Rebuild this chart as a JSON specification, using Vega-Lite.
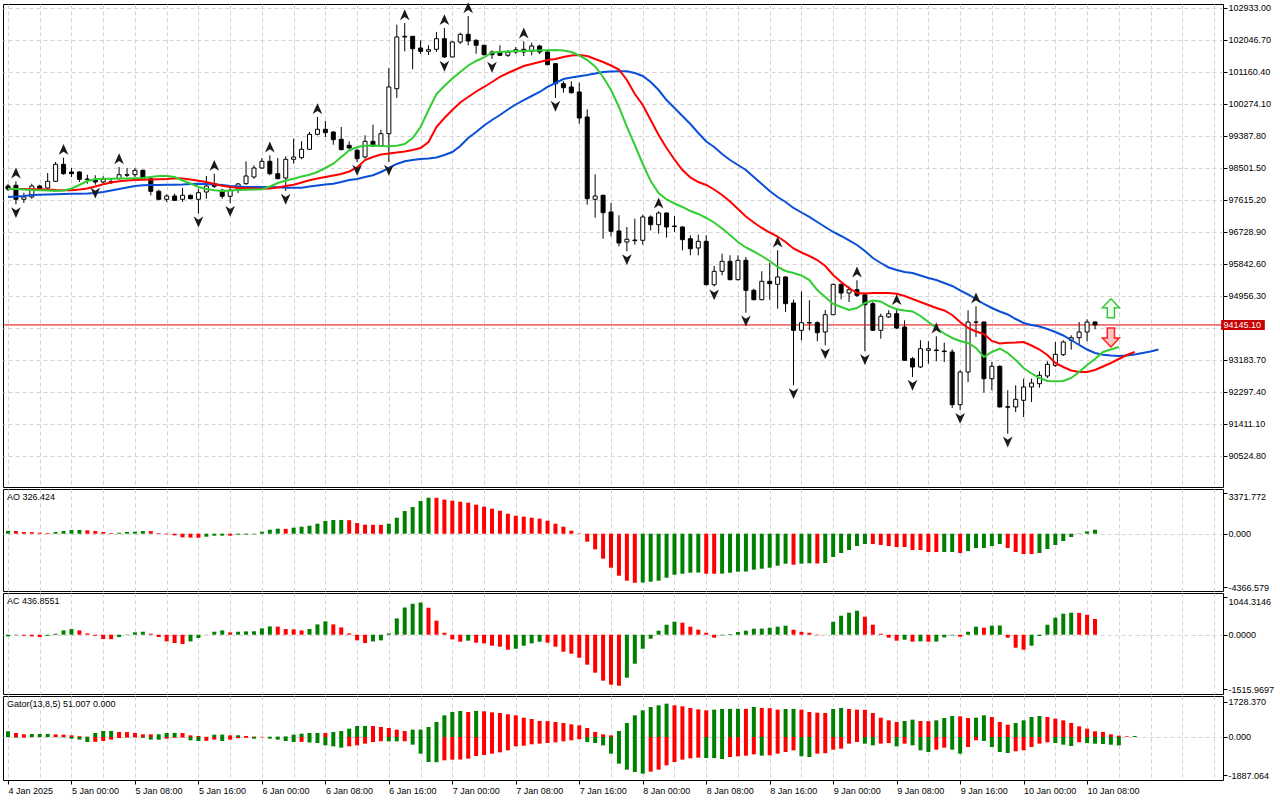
{
"$schema": "https://vega.github.io/schema/vega-lite/v6.json",
"background": "#ffffff",
"padding": {"left": 2, "top": 1, "right": 0, "bottom": 0},
"bounds": "flush",
"spacing": 2,
"config": {
"view": {"stroke": "#000000", "strokeWidth": 1},
"axis": {"labelFont": "Liberation Sans", "labelFontSize": 9, "labelColor": "#000000", "tickColor": "#000000", "tickSize": 4, "domain": false, "gridColor": "#d4d4d4", "gridDash": [4, 3], "gridWidth": 1, "labelFlush": false, "labelOverlap": false},
"title": {"font": "Liberation Sans", "fontSize": 9, "fontWeight": "normal", "color": "#000000", "anchor": "start", "frame": "group", "baseline": "alphabetic", "offset": -13, "dx": 4}
},
"datasets": {
"p": [{"p": 94145.1}],
"s": [{"i": 138, "p": 94606, "k": "up"}, {"i": 138, "p": 93798, "k": "dn"}],
"d": [
{"i":-1,"o":97994,"h":98050,"l":97856,"c":97911,"j":97690,"t":97919,"g":97919,"ao":235,"ac":-46,"gu":279,"gd":-10},
{"i":0,"o":98014,"h":98124,"l":97487,"c":97626,"j":97703,"t":97911,"g":97911,"ao":218,"ac":-15,"gu":197,"gd":-33,"fu":1,"fd":1},
{"i":1,"o":97626,"h":97809,"l":97523,"c":97690,"j":97717,"t":97911,"g":97897,"ao":137,"ac":-28,"gu":131,"gd":-33},
{"i":2,"o":97690,"h":98058,"l":97642,"c":97994,"j":97745,"t":97906,"g":97883,"ao":130,"ac":-46,"gu":148,"gd":-10},
{"i":3,"o":97994,"h":98030,"l":97911,"c":97919,"j":97753,"t":97903,"g":97875,"ao":82,"ac":-65,"gu":150,"gd":-5},
{"i":4,"o":97939,"h":98354,"l":97919,"c":98124,"j":97759,"t":97897,"g":97867,"ao":55,"ac":-28,"gu":152,"gd":-5},
{"i":5,"o":98124,"h":98659,"l":98105,"c":98595,"j":97764,"t":97883,"g":97856,"ao":137,"ac":28,"gu":131,"gd":-10},
{"i":6,"o":98595,"h":98778,"l":98307,"c":98335,"j":97773,"t":97875,"g":97870,"ao":218,"ac":120,"gu":115,"gd":-20,"fu":1},
{"i":7,"o":98382,"h":98493,"l":98244,"c":98335,"j":97781,"t":97875,"g":97925,"ao":300,"ac":157,"gu":82,"gd":-82},
{"i":8,"o":98382,"h":98401,"l":98105,"c":98180,"j":97781,"t":97897,"g":98022,"ao":305,"ac":120,"gu":40,"gd":-131},
{"i":9,"o":98188,"h":98307,"l":98058,"c":98171,"j":97786,"t":97925,"g":98133,"ao":273,"ac":37,"gu":20,"gd":-246},
{"i":10,"o":98180,"h":98291,"l":98030,"c":98105,"j":97800,"t":97980,"g":98183,"ao":218,"ac":-28,"gu":197,"gd":-240,"fd":1},
{"i":11,"o":98105,"h":98263,"l":98058,"c":98180,"j":97828,"t":98041,"g":98194,"ao":137,"ac":-120,"gu":296,"gd":-197},
{"i":12,"o":98119,"h":98216,"l":98050,"c":98099,"j":97870,"t":98091,"g":98196,"ao":55,"ac":-125,"gu":300,"gd":-131},
{"i":13,"o":98196,"h":98520,"l":98180,"c":98307,"j":97911,"t":98124,"g":98202,"ao":82,"ac":-65,"gu":246,"gd":-50,"fu":1},
{"i":14,"o":98291,"h":98493,"l":98244,"c":98307,"j":97953,"t":98147,"g":98202,"ao":137,"ac":-10,"gu":240,"gd":-30},
{"i":15,"o":98307,"h":98493,"l":98244,"c":98429,"j":97994,"t":98160,"g":98208,"ao":164,"ac":65,"gu":197,"gd":-20},
{"i":16,"o":98429,"h":98446,"l":98160,"c":98196,"j":98014,"t":98166,"g":98216,"ao":218,"ac":83,"gu":131,"gd":-40},
{"i":17,"o":98196,"h":98244,"l":97737,"c":97847,"j":98022,"t":98174,"g":98244,"ao":210,"ac":28,"gu":130,"gd":-131},
{"i":18,"o":97847,"h":97892,"l":97598,"c":97626,"j":98022,"t":98180,"g":98271,"ao":55,"ac":-65,"gu":135,"gd":-135},
{"i":19,"o":97626,"h":97764,"l":97551,"c":97717,"j":98030,"t":98188,"g":98271,"ao":-55,"ac":-185,"gu":197,"gd":-82},
{"i":20,"o":97717,"h":97781,"l":97579,"c":97598,"j":98030,"t":98208,"g":98244,"ao":-137,"ac":-231,"gu":200,"gd":-40},
{"i":21,"o":97626,"h":97939,"l":97551,"c":97737,"j":98036,"t":98202,"g":98147,"ao":-300,"ac":-259,"gu":195,"gd":-30},
{"i":22,"o":97737,"h":97753,"l":97626,"c":97642,"j":98050,"t":98174,"g":98063,"ao":-320,"ac":-185,"gu":82,"gd":-164},
{"i":23,"o":97626,"h":97919,"l":97227,"c":97809,"j":98058,"t":98141,"g":97967,"ao":-330,"ac":-92,"gu":49,"gd":-197,"fd":1},
{"i":24,"o":97828,"h":98271,"l":97642,"c":97994,"j":98050,"t":98105,"g":97911,"ao":-246,"ac":5,"gu":10,"gd":-190},
{"i":25,"o":98058,"h":98335,"l":97939,"c":97986,"j":98036,"t":98050,"g":97875,"ao":-164,"ac":83,"gu":115,"gd":-131,"fu":1},
{"i":26,"o":97875,"h":97919,"l":97642,"c":97709,"j":98022,"t":98000,"g":97856,"ao":-160,"ac":120,"gu":118,"gd":-197},
{"i":27,"o":97709,"h":97967,"l":97523,"c":97875,"j":97994,"t":97967,"g":97870,"ao":-164,"ac":65,"gu":82,"gd":-131,"fd":1},
{"i":28,"o":97919,"h":98077,"l":97800,"c":98050,"j":97980,"t":97944,"g":97883,"ao":-82,"ac":83,"gu":85,"gd":-60},
{"i":29,"o":98058,"h":98678,"l":98030,"c":98271,"j":97967,"t":97933,"g":97892,"ao":-80,"ac":92,"gu":49,"gd":-40},
{"i":30,"o":98244,"h":98568,"l":98196,"c":98493,"j":97967,"t":97925,"g":97897,"ao":-55,"ac":95,"gu":20,"gd":-82},
{"i":31,"o":98493,"h":98770,"l":98473,"c":98678,"j":97967,"t":97919,"g":97903,"ao":164,"ac":176,"gu":10,"gd":-16},
{"i":32,"o":98678,"h":98845,"l":98291,"c":98335,"j":97967,"t":97925,"g":97980,"ao":328,"ac":231,"gu":15,"gd":-82,"fu":1},
{"i":33,"o":98335,"h":98770,"l":98180,"c":98196,"j":97958,"t":97953,"g":98077,"ao":410,"ac":225,"gu":20,"gd":-131},
{"i":34,"o":98216,"h":98817,"l":97856,"c":98734,"j":97947,"t":97994,"g":98147,"ao":400,"ac":157,"gu":30,"gd":-197,"fd":1},
{"i":35,"o":98734,"h":99304,"l":98612,"c":98798,"j":97947,"t":98030,"g":98196,"ao":491,"ac":150,"gu":115,"gd":-246},
{"i":36,"o":98778,"h":99232,"l":98734,"c":99011,"j":97947,"t":98091,"g":98257,"ao":573,"ac":120,"gu":164,"gd":-240},
{"i":37,"o":99011,"h":99490,"l":99000,"c":99426,"j":97980,"t":98152,"g":98307,"ao":655,"ac":157,"gu":197,"gd":-270},
{"i":38,"o":99426,"h":99906,"l":99399,"c":99565,"j":98008,"t":98202,"g":98382,"ao":819,"ac":287,"gu":200,"gd":-296,"fu":1},
{"i":39,"o":99565,"h":99795,"l":99352,"c":99471,"j":98036,"t":98244,"g":98493,"ao":1037,"ac":370,"gu":195,"gd":-410},
{"i":40,"o":99490,"h":99509,"l":99138,"c":99277,"j":98058,"t":98285,"g":98612,"ao":1119,"ac":287,"gu":246,"gd":-460},
{"i":41,"o":99288,"h":99629,"l":98983,"c":99000,"j":98105,"t":98327,"g":98798,"ao":1125,"ac":203,"gu":296,"gd":-525},
{"i":42,"o":99122,"h":99232,"l":99019,"c":99047,"j":98160,"t":98396,"g":98978,"ao":1110,"ac":37,"gu":410,"gd":-460},
{"i":43,"o":98983,"h":99027,"l":98659,"c":98750,"j":98188,"t":98507,"g":99075,"ao":874,"ac":-157,"gu":542,"gd":-410,"fd":1},
{"i":44,"o":98798,"h":99399,"l":98750,"c":99232,"j":98244,"t":98714,"g":99111,"ao":737,"ac":-231,"gu":545,"gd":-328},
{"i":45,"o":99232,"h":99692,"l":99075,"c":99102,"j":98291,"t":98798,"g":99116,"ao":730,"ac":-185,"gu":540,"gd":-250},
{"i":46,"o":99102,"h":99554,"l":99075,"c":99443,"j":98382,"t":98867,"g":99102,"ao":725,"ac":-157,"gu":493,"gd":-210},
{"i":47,"o":99443,"h":101263,"l":98659,"c":100737,"j":98493,"t":98894,"g":99094,"ao":819,"ac":37,"gu":443,"gd":-213,"fd":1},
{"i":48,"o":100689,"h":102462,"l":100432,"c":102122,"j":98604,"t":98922,"g":99111,"ao":1310,"ac":453,"gu":361,"gd":-215},
{"i":49,"o":102141,"h":102509,"l":101725,"c":102122,"j":98678,"t":98950,"g":99158,"ao":1856,"ac":755,"gu":296,"gd":-210,"fu":1},
{"i":50,"o":102141,"h":102149,"l":101227,"c":101797,"j":98714,"t":98991,"g":99324,"ao":2184,"ac":860,"gu":361,"gd":-378},
{"i":51,"o":101817,"h":102030,"l":101651,"c":101725,"j":98742,"t":99047,"g":99629,"ao":2675,"ac":893,"gu":365,"gd":-821},
{"i":52,"o":101725,"h":101892,"l":101623,"c":101770,"j":98756,"t":99213,"g":100099,"ao":2948,"ac":749,"gu":493,"gd":-1232},
{"i":53,"o":101781,"h":102260,"l":101706,"c":102074,"j":98784,"t":99629,"g":100543,"ao":2940,"ac":389,"gu":739,"gd":-1240},
{"i":54,"o":102074,"h":102371,"l":101540,"c":101568,"j":98853,"t":99878,"g":100764,"ao":2785,"ac":55,"gu":1067,"gd":-1150,"fu":1,"fd":1},
{"i":55,"o":101568,"h":102011,"l":101554,"c":101983,"j":98936,"t":100099,"g":100972,"ao":2703,"ac":-130,"gu":1232,"gd":-1117},
{"i":56,"o":101983,"h":102241,"l":101928,"c":102196,"j":99102,"t":100307,"g":101152,"ao":2621,"ac":-194,"gu":1281,"gd":-1110},
{"i":57,"o":102196,"h":102703,"l":101892,"c":102011,"j":99324,"t":100460,"g":101332,"ao":2539,"ac":-166,"gu":1232,"gd":-1067,"fu":1},
{"i":58,"o":102030,"h":102058,"l":101659,"c":101892,"j":99490,"t":100612,"g":101457,"ao":2375,"ac":-222,"gu":1285,"gd":-936},
{"i":59,"o":101892,"h":101908,"l":101615,"c":101631,"j":99670,"t":100737,"g":101554,"ao":2211,"ac":-240,"gu":1265,"gd":-887},
{"i":60,"o":101706,"h":101753,"l":101512,"c":101631,"j":99822,"t":100875,"g":101692,"ao":2048,"ac":-305,"gu":1215,"gd":-821,"fd":1},
{"i":61,"o":101706,"h":101892,"l":101595,"c":101615,"j":99961,"t":101014,"g":101706,"ao":1884,"ac":-333,"gu":1182,"gd":-755},
{"i":62,"o":101615,"h":101761,"l":101568,"c":101706,"j":100113,"t":101124,"g":101720,"ao":1638,"ac":-416,"gu":1117,"gd":-657},
{"i":63,"o":101706,"h":101845,"l":101651,"c":101770,"j":100252,"t":101221,"g":101725,"ao":1474,"ac":-389,"gu":1067,"gd":-460},
{"i":64,"o":101781,"h":102002,"l":101595,"c":101706,"j":100376,"t":101318,"g":101734,"ao":1392,"ac":-305,"gu":952,"gd":-428,"fu":1},
{"i":65,"o":101725,"h":101964,"l":101615,"c":101872,"j":100487,"t":101374,"g":101742,"ao":1310,"ac":-240,"gu":887,"gd":-361},
{"i":66,"o":101872,"h":101908,"l":101651,"c":101706,"j":100598,"t":101429,"g":101748,"ao":1229,"ac":-194,"gu":788,"gd":-328},
{"i":67,"o":101706,"h":101725,"l":101338,"c":101354,"j":100737,"t":101484,"g":101753,"ao":1065,"ac":-222,"gu":780,"gd":-296},
{"i":68,"o":101382,"h":101401,"l":100432,"c":100828,"j":100847,"t":101512,"g":101761,"ao":819,"ac":-333,"gu":739,"gd":-263,"fd":1},
{"i":69,"o":100828,"h":100894,"l":100579,"c":100717,"j":100958,"t":101568,"g":101748,"ao":573,"ac":-472,"gu":690,"gd":-213},
{"i":70,"o":100737,"h":100894,"l":100551,"c":100579,"j":101000,"t":101609,"g":101706,"ao":246,"ac":-527,"gu":624,"gd":-164},
{"i":71,"o":100598,"h":100856,"l":99720,"c":99878,"j":101033,"t":101623,"g":101609,"ao":27,"ac":-638,"gu":575,"gd":-115},
{"i":72,"o":99906,"h":100119,"l":97476,"c":97642,"j":101069,"t":101595,"g":101484,"ao":-655,"ac":-832,"gu":443,"gd":-246},
{"i":73,"o":97626,"h":98318,"l":97116,"c":97717,"j":101110,"t":101512,"g":101304,"ao":-1283,"ac":-1054,"gu":246,"gd":-296},
{"i":74,"o":97737,"h":97753,"l":96534,"c":97255,"j":101152,"t":101429,"g":101014,"ao":-2048,"ac":-1276,"gu":131,"gd":-410},
{"i":75,"o":97274,"h":97523,"l":96601,"c":96739,"j":101166,"t":101332,"g":100653,"ao":-2785,"ac":-1387,"gu":80,"gd":-821},
{"i":76,"o":96748,"h":97183,"l":96324,"c":96415,"j":101171,"t":101221,"g":100183,"ao":-3440,"ac":-1415,"gu":296,"gd":-1314},
{"i":77,"o":96443,"h":96859,"l":96185,"c":96518,"j":101171,"t":100930,"g":99629,"ao":-3849,"ac":-1193,"gu":690,"gd":-1609,"fd":1},
{"i":78,"o":96498,"h":97088,"l":96368,"c":96482,"j":101124,"t":100543,"g":99130,"ao":-4020,"ac":-805,"gu":1067,"gd":-1724},
{"i":79,"o":96490,"h":97199,"l":96368,"c":97136,"j":101041,"t":100238,"g":98604,"ao":-4000,"ac":-389,"gu":1314,"gd":-1806},
{"i":80,"o":97136,"h":97183,"l":96767,"c":96922,"j":100875,"t":99822,"g":98133,"ao":-3931,"ac":-111,"gu":1478,"gd":-1708},
{"i":81,"o":96922,"h":97293,"l":96673,"c":97246,"j":100653,"t":99407,"g":97800,"ao":-3849,"ac":111,"gu":1560,"gd":-1609,"fu":1},
{"i":82,"o":97246,"h":97260,"l":96562,"c":96859,"j":100376,"t":99047,"g":97620,"ao":-3604,"ac":277,"gu":1642,"gd":-1396},
{"i":83,"o":96886,"h":97163,"l":96720,"c":96870,"j":100155,"t":98728,"g":97509,"ao":-3358,"ac":361,"gu":1560,"gd":-1232},
{"i":84,"o":96859,"h":96878,"l":96213,"c":96507,"j":99933,"t":98437,"g":97413,"ao":-3276,"ac":333,"gu":1511,"gd":-1117},
{"i":85,"o":96534,"h":96629,"l":96075,"c":96257,"j":99712,"t":98230,"g":97302,"ao":-3194,"ac":222,"gu":1429,"gd":-1050},
{"i":86,"o":96277,"h":96645,"l":96075,"c":96462,"j":99462,"t":98105,"g":97219,"ao":-3180,"ac":139,"gu":1363,"gd":-1018},
{"i":87,"o":96462,"h":96629,"l":95244,"c":95260,"j":99227,"t":98022,"g":97108,"ao":-3276,"ac":55,"gu":1314,"gd":-1034},
{"i":88,"o":95260,"h":95778,"l":95210,"c":95631,"j":99075,"t":97897,"g":96983,"ao":-3280,"ac":-83,"gu":1347,"gd":-1040,"fd":1},
{"i":89,"o":95631,"h":96119,"l":95521,"c":95908,"j":98881,"t":97745,"g":96817,"ao":-3270,"ac":-18,"gu":1380,"gd":-1084},
{"i":90,"o":95908,"h":96075,"l":95382,"c":95399,"j":98714,"t":97565,"g":96637,"ao":-3194,"ac":18,"gu":1385,"gd":-985},
{"i":91,"o":95399,"h":96075,"l":95377,"c":95936,"j":98576,"t":97357,"g":96443,"ao":-3112,"ac":74,"gu":1390,"gd":-952},
{"i":92,"o":95936,"h":96028,"l":94485,"c":95105,"j":98437,"t":97149,"g":96291,"ao":-3100,"ac":111,"gu":1385,"gd":-920,"fd":1},
{"i":93,"o":95105,"h":95149,"l":94828,"c":94845,"j":98244,"t":96983,"g":96180,"ao":-2948,"ac":166,"gu":1478,"gd":-854},
{"i":94,"o":94845,"h":95631,"l":94823,"c":95354,"j":98050,"t":96831,"g":96055,"ao":-2867,"ac":170,"gu":1429,"gd":-920},
{"i":95,"o":95354,"h":95861,"l":94845,"c":95288,"j":97856,"t":96706,"g":95917,"ao":-2785,"ac":194,"gu":1420,"gd":-903},
{"i":96,"o":95271,"h":96213,"l":94595,"c":95474,"j":97690,"t":96595,"g":95751,"ao":-2621,"ac":222,"gu":1347,"gd":-821,"fu":1},
{"i":97,"o":95474,"h":95493,"l":94504,"c":94734,"j":97551,"t":96443,"g":95640,"ao":-2457,"ac":250,"gu":1380,"gd":-739},
{"i":98,"o":94753,"h":94845,"l":92474,"c":93997,"j":97385,"t":96263,"g":95584,"ao":-2539,"ac":139,"gu":1385,"gd":-657,"fd":1},
{"i":99,"o":93997,"h":95077,"l":93720,"c":94208,"j":97260,"t":96152,"g":95515,"ao":-2457,"ac":80,"gu":1347,"gd":-952},
{"i":100,"o":94213,"h":94828,"l":93997,"c":94199,"j":97136,"t":96055,"g":95390,"ao":-2420,"ac":55,"gu":1232,"gd":-985},
{"i":101,"o":94208,"h":94246,"l":93692,"c":93931,"j":96997,"t":95944,"g":95113,"ao":-2440,"ac":-14,"gu":1199,"gd":-821},
{"i":102,"o":93950,"h":94559,"l":93582,"c":94429,"j":96859,"t":95778,"g":94920,"ao":-2400,"ac":5,"gu":1182,"gd":-800,"fd":1},
{"i":103,"o":94429,"h":95288,"l":94421,"c":95271,"j":96720,"t":95529,"g":94726,"ao":-1911,"ac":361,"gu":1380,"gd":-624},
{"i":104,"o":95271,"h":95288,"l":94856,"c":95030,"j":96609,"t":95335,"g":94643,"ao":-1583,"ac":527,"gu":1429,"gd":-575},
{"i":105,"o":95030,"h":95216,"l":94781,"c":95122,"j":96485,"t":95169,"g":94559,"ao":-1338,"ac":610,"gu":1380,"gd":-328},
{"i":106,"o":95122,"h":95382,"l":94920,"c":94967,"j":96360,"t":95030,"g":94615,"ao":-1010,"ac":666,"gu":1347,"gd":-246,"fu":1},
{"i":107,"o":94983,"h":94994,"l":93415,"c":94706,"j":96194,"t":95016,"g":94753,"ao":-846,"ac":499,"gu":1340,"gd":-328,"fd":1},
{"i":108,"o":94734,"h":94781,"l":93978,"c":93997,"j":96000,"t":95030,"g":94823,"ao":-850,"ac":277,"gu":1182,"gd":-410},
{"i":109,"o":93997,"h":94457,"l":93764,"c":94385,"j":95861,"t":95030,"g":94795,"ao":-928,"ac":28,"gu":952,"gd":-328},
{"i":110,"o":94366,"h":94551,"l":94338,"c":94457,"j":95737,"t":95030,"g":94670,"ao":-1010,"ac":-83,"gu":821,"gd":-300},
{"i":111,"o":94457,"h":94615,"l":94033,"c":94061,"j":95667,"t":95011,"g":94579,"ao":-1092,"ac":-166,"gu":739,"gd":-460,"fu":1},
{"i":112,"o":94089,"h":94274,"l":93161,"c":93166,"j":95612,"t":94947,"g":94546,"ao":-1095,"ac":-139,"gu":788,"gd":-328},
{"i":113,"o":93210,"h":93258,"l":92704,"c":92981,"j":95584,"t":94864,"g":94518,"ao":-1338,"ac":-194,"gu":854,"gd":-410,"fd":1},
{"i":114,"o":92981,"h":93720,"l":92953,"c":93487,"j":95515,"t":94781,"g":94393,"ao":-1340,"ac":-185,"gu":788,"gd":-657},
{"i":115,"o":93443,"h":93692,"l":93072,"c":93487,"j":95446,"t":94698,"g":94227,"ao":-1502,"ac":-194,"gu":780,"gd":-739},
{"i":116,"o":93451,"h":93831,"l":93138,"c":93435,"j":95390,"t":94615,"g":94061,"ao":-1505,"ac":-190,"gu":821,"gd":-624,"fu":1},
{"i":117,"o":93424,"h":93654,"l":93119,"c":93407,"j":95307,"t":94546,"g":93908,"ao":-1500,"ac":-74,"gu":936,"gd":-525},
{"i":118,"o":93396,"h":93471,"l":91845,"c":91936,"j":95224,"t":94421,"g":93784,"ao":-1495,"ac":-18,"gu":1034,"gd":-624},
{"i":119,"o":91936,"h":92889,"l":91789,"c":92842,"j":95100,"t":94227,"g":93701,"ao":-1583,"ac":-55,"gu":1018,"gd":-821,"fd":1},
{"i":120,"o":92842,"h":94551,"l":92565,"c":94227,"j":94989,"t":94061,"g":93645,"ao":-1420,"ac":83,"gu":936,"gd":-493},
{"i":121,"o":94219,"h":94662,"l":93812,"c":94227,"j":94864,"t":93964,"g":93507,"ao":-1174,"ac":222,"gu":952,"gd":-164,"fu":1},
{"i":122,"o":94227,"h":94246,"l":92269,"c":92656,"j":94726,"t":93895,"g":93258,"ao":-1170,"ac":194,"gu":1067,"gd":-197},
{"i":123,"o":92656,"h":93119,"l":92335,"c":93000,"j":94615,"t":93701,"g":93396,"ao":-1010,"ac":250,"gu":985,"gd":-493},
{"i":124,"o":93000,"h":93028,"l":91859,"c":91873,"j":94518,"t":93631,"g":93493,"ao":-846,"ac":255,"gu":739,"gd":-739},
{"i":125,"o":91881,"h":92335,"l":91133,"c":91867,"j":94435,"t":93651,"g":93368,"ao":-1174,"ac":-83,"gu":608,"gd":-788,"fd":1},
{"i":126,"o":91873,"h":92474,"l":91734,"c":92086,"j":94310,"t":93659,"g":93174,"ao":-1502,"ac":-361,"gu":690,"gd":-706},
{"i":127,"o":92058,"h":92656,"l":91596,"c":92427,"j":94199,"t":93673,"g":92953,"ao":-1665,"ac":-416,"gu":821,"gd":-657},
{"i":128,"o":92427,"h":92656,"l":92011,"c":92537,"j":94144,"t":93576,"g":92800,"ao":-1670,"ac":-305,"gu":985,"gd":-493},
{"i":129,"o":92518,"h":92861,"l":92407,"c":92751,"j":94102,"t":93465,"g":92676,"ao":-1583,"ac":-37,"gu":1034,"gd":-328},
{"i":130,"o":92731,"h":93138,"l":92676,"c":93055,"j":94033,"t":93313,"g":92593,"ao":-1256,"ac":277,"gu":985,"gd":-263},
{"i":131,"o":93028,"h":93673,"l":92981,"c":93332,"j":93950,"t":93091,"g":92584,"ao":-928,"ac":472,"gu":903,"gd":-296},
{"i":132,"o":93321,"h":93720,"l":93285,"c":93673,"j":93853,"t":92981,"g":92593,"ao":-601,"ac":583,"gu":821,"gd":-378},
{"i":133,"o":93720,"h":93859,"l":93460,"c":93792,"j":93728,"t":92884,"g":92676,"ao":-273,"ac":610,"gu":690,"gd":-443},
{"i":134,"o":93792,"h":94227,"l":93609,"c":93950,"j":93590,"t":92842,"g":92842,"ao":-27,"ac":605,"gu":525,"gd":-260},
{"i":135,"o":93950,"h":94302,"l":93692,"c":94227,"j":93465,"t":92842,"g":93036,"ao":191,"ac":555,"gu":410,"gd":-300},
{"i":136,"o":94227,"h":94246,"l":94025,"c":94145.1,"j":93368,"t":92897,"g":93202,"ao":326,"ac":437,"gu":280,"gd":-330},
{"i":137,"j":93321,"t":92994,"g":93396,"gu":250,"gd":-345},
{"i":138,"j":93299,"t":93091,"g":93465,"gu":131,"gd":-380},
{"i":139,"j":93285,"t":93202,"g":93534,"gu":66,"gd":-411},
{"i":140,"j":93299,"t":93313,"gu":33},
{"i":141,"j":93327,"t":93396,"gu":51},
{"i":142,"j":93368},
{"i":143,"j":93410},
{"i":144,"j":93465}
]
},
"vconcat": [
{
"width": 1220, "height": 483,
"resolve": {"axis": {"x": "independent", "y": "independent"}},
"layer": [
{"data": {"name": "d"}, "transform": [{"filter": "isValid(datum.h)"}],
 "mark": {"type": "rule", "color": "#000000", "strokeWidth": 1, "clip": true},
 "encoding": {
  "x": {"field": "i", "type": "quantitative", "scale": {"domain": [-1, 151.5], "nice": false, "zero": false},
   "axis": {"values": [-1,3,7,11,15,19,23,27,31,35,39,43,47,51,55,59,63,67,71,75,79,83,87,91,95,99,103,107,111,115,119,123,127,131,135,139,143,147,151], "labels": false, "ticks": false, "grid": true, "gridOpacity": {"condition": {"test": "datum.value > -2", "value": 1}, "value": 0}, "title": null}},
  "y": {"field": "l", "type": "quantitative", "scale": {"domain": [89656.4, 103035.5], "nice": false, "zero": false},
   "axis": {"orient": "right", "values": [102933,102046.7,101160.4,100274.1,99387.8,98501.5,97615.2,96728.9,95842.6,94956.3,94070,93183.7,92297.4,91411.1,90524.8], "labelExpr": "datum.value === 94070 ? '' : format(datum.value, '.2f')", "labelPadding": 1, "grid": true, "gridOpacity": {"condition": {"test": "datum.value > 0", "value": 1}, "value": 0}, "title": null}},
  "y2": {"field": "h"}}},
{"data": {"name": "p"}, "mark": {"type": "rule", "color": "#e00000", "strokeWidth": 1},
 "encoding": {"y": {"field": "p", "type": "quantitative", "scale": {"domain": [89656.4, 103035.5], "nice": false, "zero": false}, "axis": null}}},
{"data": {"name": "d"}, "transform": [{"filter": "isValid(datum.o)"}],
 "mark": {"type": "bar", "width": 4, "stroke": "#000000", "strokeWidth": 1, "clip": true},
 "encoding": {
  "x": {"field": "i", "type": "quantitative", "scale": {"domain": [-1, 151.5], "nice": false, "zero": false}, "axis": null},
  "y": {"field": "o", "type": "quantitative", "scale": {"domain": [89656.4, 103035.5], "nice": false, "zero": false}, "axis": null},
  "y2": {"field": "c"},
  "fill": {"condition": {"test": "datum.c > datum.o", "value": "#ffffff"}, "value": "#000000"}}},
{"data": {"name": "d"}, "transform": [{"filter": "isValid(datum.j)"}],
 "mark": {"type": "line", "color": "#0a4fd8", "strokeWidth": 2, "clip": true},
 "encoding": {
  "x": {"field": "i", "type": "quantitative", "scale": {"domain": [-1, 151.5], "nice": false, "zero": false}, "axis": null},
  "y": {"field": "j", "type": "quantitative", "scale": {"domain": [89656.4, 103035.5], "nice": false, "zero": false}, "axis": null}}},
{"data": {"name": "d"}, "transform": [{"filter": "isValid(datum.t)"}],
 "mark": {"type": "line", "color": "#ff0000", "strokeWidth": 2, "clip": true},
 "encoding": {
  "x": {"field": "i", "type": "quantitative", "scale": {"domain": [-1, 151.5], "nice": false, "zero": false}, "axis": null},
  "y": {"field": "t", "type": "quantitative", "scale": {"domain": [89656.4, 103035.5], "nice": false, "zero": false}, "axis": null}}},
{"data": {"name": "d"}, "transform": [{"filter": "isValid(datum.g)"}],
 "mark": {"type": "line", "color": "#32cd32", "strokeWidth": 2, "clip": true},
 "encoding": {
  "x": {"field": "i", "type": "quantitative", "scale": {"domain": [-1, 151.5], "nice": false, "zero": false}, "axis": null},
  "y": {"field": "g", "type": "quantitative", "scale": {"domain": [89656.4, 103035.5], "nice": false, "zero": false}, "axis": null}}},
{"data": {"name": "d"}, "transform": [{"filter": "datum.fu === 1"}],
 "mark": {"type": "point", "shape": "M0,-1L0.85,0.9L0,0.35L-0.85,0.9Z", "filled": true, "size": 130, "color": "#1a1a1a", "opacity": 1, "yOffset": -8},
 "encoding": {
  "x": {"field": "i", "type": "quantitative", "scale": {"domain": [-1, 151.5], "nice": false, "zero": false}, "axis": null},
  "y": {"field": "h", "type": "quantitative", "scale": {"domain": [89656.4, 103035.5], "nice": false, "zero": false}, "axis": null}}},
{"data": {"name": "d"}, "transform": [{"filter": "datum.fd === 1"}],
 "mark": {"type": "point", "shape": "M0,1L0.85,-0.9L0,-0.35L-0.85,-0.9Z", "filled": true, "size": 130, "color": "#1a1a1a", "opacity": 1, "yOffset": 8},
 "encoding": {
  "x": {"field": "i", "type": "quantitative", "scale": {"domain": [-1, 151.5], "nice": false, "zero": false}, "axis": null},
  "y": {"field": "l", "type": "quantitative", "scale": {"domain": [89656.4, 103035.5], "nice": false, "zero": false}, "axis": null}}},
{"data": {"name": "s"}, "transform": [{"filter": "datum.k === 'up'"}],
 "mark": {"type": "point", "shape": "M0,-1L0.9,-0.05L0.38,-0.05L0.38,1L-0.38,1L-0.38,-0.05L-0.9,-0.05Z", "size": 361, "fill": "#eaffea", "stroke": "#3ec43e", "strokeWidth": 1.5, "opacity": 1, "fillOpacity": 1},
 "encoding": {
  "x": {"field": "i", "type": "quantitative", "scale": {"domain": [-1, 151.5], "nice": false, "zero": false}, "axis": null},
  "y": {"field": "p", "type": "quantitative", "scale": {"domain": [89656.4, 103035.5], "nice": false, "zero": false}, "axis": null}}},
{"data": {"name": "s"}, "transform": [{"filter": "datum.k === 'dn'"}],
 "mark": {"type": "point", "shape": "M0,1L0.9,0.05L0.38,0.05L0.38,-1L-0.38,-1L-0.38,0.05L-0.9,0.05Z", "size": 361, "fill": "#ffc4c4", "stroke": "#ff2020", "strokeWidth": 1.5, "opacity": 1, "fillOpacity": 1},
 "encoding": {
  "x": {"field": "i", "type": "quantitative", "scale": {"domain": [-1, 151.5], "nice": false, "zero": false}, "axis": null},
  "y": {"field": "p", "type": "quantitative", "scale": {"domain": [89656.4, 103035.5], "nice": false, "zero": false}, "axis": null}}},
{"data": {"name": "p"},
 "mark": {"type": "rect", "color": "#c80000"},
 "encoding": {
  "x": {"datum": 151.9, "type": "quantitative", "scale": {"domain": [-1, 151.5], "nice": false, "zero": false}, "axis": null},
  "x2": {"datum": 157.4},
  "y": {"datum": 94283, "type": "quantitative", "scale": {"domain": [89656.4, 103035.5], "nice": false, "zero": false}, "axis": null},
  "y2": {"datum": 94007}}},
{"data": {"name": "p"},
 "mark": {"type": "text", "align": "left", "baseline": "middle", "color": "#ffffff", "font": "Liberation Sans", "fontSize": 9},
 "encoding": {
  "x": {"datum": 152.2, "type": "quantitative", "scale": {"domain": [-1, 151.5], "nice": false, "zero": false}, "axis": null},
  "y": {"field": "p", "type": "quantitative", "scale": {"domain": [89656.4, 103035.5], "nice": false, "zero": false}, "axis": null},
  "text": {"field": "p", "type": "quantitative", "format": ".2f"}}}
]
},
{
"width": 1220, "height": 102,
"title": {"text": "AO 326.424"},
"data": {"name": "d"},
"transform": [{"filter": "isValid(datum.ao)"}, {"window": [{"op": "lag", "field": "ao", "as": "q"}], "sort": [{"field": "i"}]}],
"mark": {"type": "bar", "width": 4, "clip": true},
"encoding": {
 "x": {"field": "i", "type": "quantitative", "scale": {"domain": [-1, 151.5], "nice": false, "zero": false},
  "axis": {"values": [-1,3,7,11,15,19,23,27,31,35,39,43,47,51,55,59,63,67,71,75,79,83,87,91,95,99,103,107,111,115,119,123,127,131,135,139,143,147,151], "labels": false, "ticks": false, "grid": true, "title": null}},
 "y": {"field": "ao", "type": "quantitative", "scale": {"domain": [-4693, 3661], "nice": false, "zero": false},
  "axis": {"orient": "right", "values": [-4366.579, 0, 3371.772], "labelExpr": "replace(format(datum.value, '.3f'), '\u2212', '-')", "labelPadding": 1, "grid": true, "gridOpacity": {"condition": {"test": "datum.value === 0", "value": 1}, "value": 0}, "labelBaseline": {"condition": {"test": "datum.value > 0", "value": "top"}, "value": "middle"}, "title": null}},
 "y2": {"datum": 0},
 "color": {"condition": {"test": "datum.q == null || datum.ao > datum.q", "value": "#008000"}, "value": "#ff0000"}
}
},
{
"width": 1220, "height": 101,
"title": {"text": "AC 436.8551"},
"data": {"name": "d"},
"transform": [{"filter": "isValid(datum.ac)"}, {"window": [{"op": "lag", "field": "ac", "as": "q"}], "sort": [{"field": "i"}]}],
"mark": {"type": "bar", "width": 4, "clip": true},
"encoding": {
 "x": {"field": "i", "type": "quantitative", "scale": {"domain": [-1, 151.5], "nice": false, "zero": false},
  "axis": {"values": [-1,3,7,11,15,19,23,27,31,35,39,43,47,51,55,59,63,67,71,75,79,83,87,91,95,99,103,107,111,115,119,123,127,131,135,139,143,147,151], "labels": false, "ticks": false, "grid": true, "title": null}},
 "y": {"field": "ac", "type": "quantitative", "scale": {"domain": [-1646, 1158], "nice": false, "zero": false},
  "axis": {"orient": "right", "values": [-1515.9697, 0, 1044.3146], "labelExpr": "replace(format(datum.value, '.4f'), '\u2212', '-')", "labelPadding": 1, "grid": true, "gridOpacity": {"condition": {"test": "datum.value === 0", "value": 1}, "value": 0}, "labelBaseline": {"condition": {"test": "datum.value > 0", "value": "top"}, "value": "middle"}, "title": null}},
 "y2": {"datum": 0},
 "color": {"condition": {"test": "datum.q == null || datum.ac > datum.q", "value": "#008000"}, "value": "#ff0000"}
}
},
{
"width": 1220, "height": 84,
"title": {"text": "Gator(13,8,5) 51.007 0.000"},
"resolve": {"axis": {"x": "independent", "y": "independent"}},
"layer": [
{"data": {"name": "d"},
 "transform": [{"filter": "isValid(datum.gu)"}, {"window": [{"op": "lag", "field": "gu", "as": "q"}], "sort": [{"field": "i"}]}],
 "mark": {"type": "bar", "width": 4, "clip": true},
 "encoding": {
  "x": {"field": "i", "type": "quantitative", "scale": {"domain": [-1, 151.5], "nice": false, "zero": false},
   "axis": {"values": [-1,3,7,11,15,19,23,27,31,35,39,43,47,51,55,59,63,67,71,75,79,83,87,91,95,99,103,107,111,115,119,123,127,131,135,139,143,147,151],
    "labelExpr": "(datum.value + 1) % 8 === 0 && datum.value <= 135 ? (datum.value < 0 ? '4 Jan 2025' : (5 + floor((datum.value - 7) / 24)) + ' Jan ' + (((datum.value - 7) % 24) < 10 ? '0' : '') + ((datum.value - 7) % 24) + ':00') : ''",
    "labelAlign": "left", "labelPadding": 2, "tickSize": 4,
    "tickOpacity": {"condition": {"test": "(datum.value + 1) % 8 === 0 && datum.value <= 135", "value": 1}, "value": 0},
    "grid": true, "gridOpacity": {"condition": {"test": "datum.value > -2", "value": 1}, "value": 0}, "title": null}},
  "y": {"field": "gu", "type": "quantitative", "scale": {"domain": [-2119, 2020], "nice": false, "zero": false},
   "axis": {"orient": "right", "values": [-1887.064, 0, 1728.37], "labelExpr": "replace(format(datum.value, '.3f'), '\u2212', '-')", "labelPadding": 1, "grid": true, "gridOpacity": {"condition": {"test": "datum.value === 0", "value": 1}, "value": 0}, "title": null}},
  "y2": {"datum": 0},
  "color": {"condition": {"test": "datum.q == null || datum.gu > datum.q", "value": "#008000"}, "value": "#ff0000"}}},
{"data": {"name": "d"},
 "transform": [{"filter": "isValid(datum.gd)"}, {"window": [{"op": "lag", "field": "gd", "as": "q"}], "sort": [{"field": "i"}]}],
 "mark": {"type": "bar", "width": 4, "clip": true},
 "encoding": {
  "x": {"field": "i", "type": "quantitative", "scale": {"domain": [-1, 151.5], "nice": false, "zero": false}, "axis": null},
  "y": {"field": "gd", "type": "quantitative", "scale": {"domain": [-2119, 2020], "nice": false, "zero": false}, "axis": null},
  "y2": {"datum": 0},
  "color": {"condition": {"test": "datum.q == null || abs(datum.gd) > abs(datum.q)", "value": "#008000"}, "value": "#ff0000"}}}
]
}
]
}
